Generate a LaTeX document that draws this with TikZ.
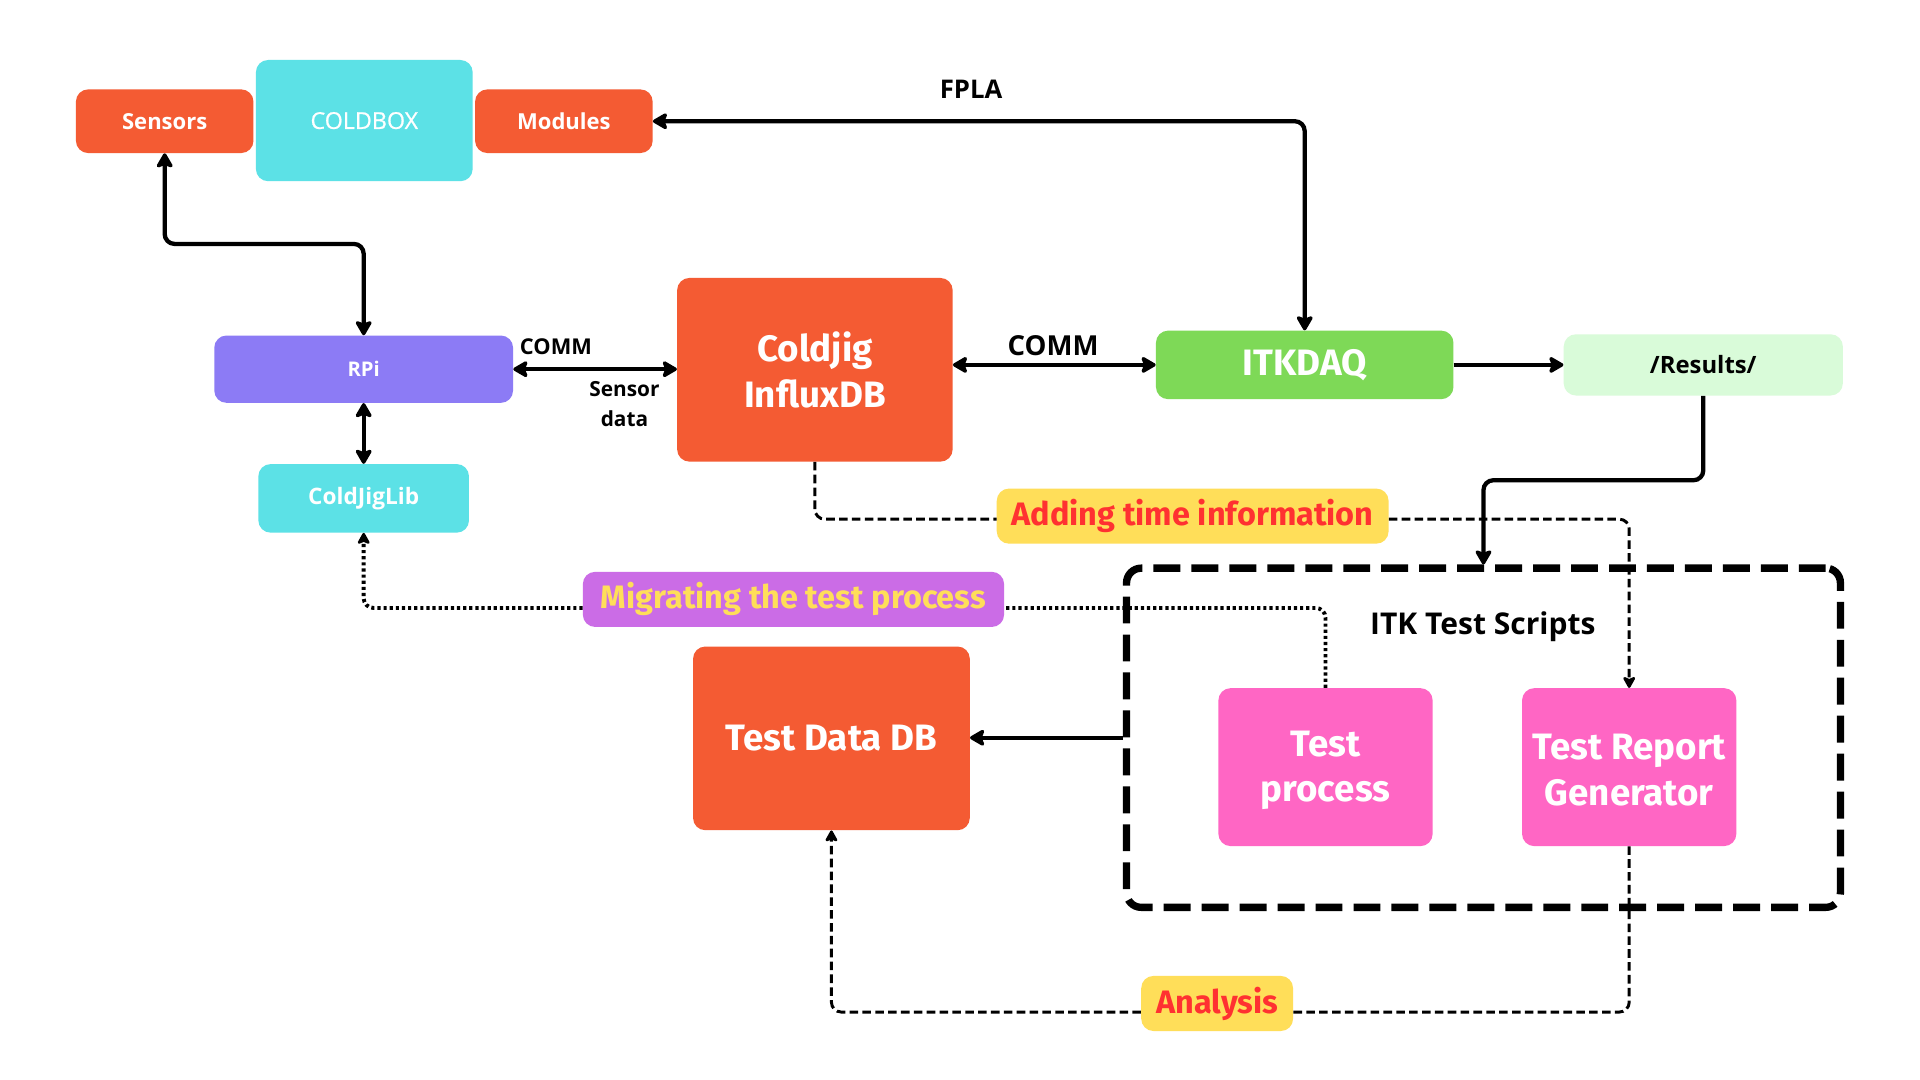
\documentclass[tikz,border=0pt]{standalone}
\usepackage{fontspec}
\setmainfont{Open Sans}
\newfontfamily\fbig{Fira Sans}
\newfontfamily\fsm{Open Sans}
\newfontfamily\fmed[FakeBold=0.8]{Open Sans}
\usetikzlibrary{arrows.meta,calc}
\definecolor{corange}{HTML}{F45B33}
\definecolor{ccyan}{HTML}{5CE1E6}
\definecolor{cpurple}{HTML}{8C7BF5}
\definecolor{cgreen}{HTML}{7ED957}
\definecolor{clgreen}{HTML}{D9FBD9}
\definecolor{cyellow}{HTML}{FFDE59}
\definecolor{cred}{HTML}{FF3131}
\definecolor{cviolet}{HTML}{CB6CE6}
\definecolor{cpink}{HTML}{FF66C4}
\tikzset{
  bigtip/.tip={Stealth[length=14pt,width=16pt,inset=3pt,round]},
  smalltip/.tip={Stealth[length=11pt,width=12pt,inset=2.5pt,round]},
  box/.style={rounded corners=10pt, inner sep=0pt, align=center, text=white},
  bigtxt/.style={font=\fbig\bfseries\fontsize{30}{37}\selectfont},
  smtxt/.style={font=\fsm\bfseries\fontsize{18}{22}\selectfont},
  lbl/.style={font=\fbig\bfseries\fontsize{26.5}{30}\selectfont},
  conn/.style={line width=3.5pt, rounded corners=8pt},
  dconn/.style={line width=2.4pt, dash pattern=on 7pt off 3.5pt, rounded corners=8pt},
  oconn/.style={line width=3.2pt, dash pattern=on 2.6pt off 2.4pt, rounded corners=8pt},
}
\begin{document}
\begin{tikzpicture}[x=1pt,y=-1pt]
\useasboundingbox (0,0) rectangle (1568,882);
\fill[white] (0,0) rectangle (1568,882);
% top row
\node[box, fill=corange, minimum width=145pt, minimum height=52pt, smtxt] (sensors) at (134.5,99) {Sensors};
\node[box, fill=ccyan, minimum width=177pt, minimum height=99pt, font=\fmed\fontsize{19}{22}\selectfont] (coldbox) at (297.5,98.5) {COLDBOX};
\node[box, fill=corange, minimum width=145pt, minimum height=52pt, smtxt] (modules) at (460.5,99) {Modules};
% middle
\node[box, fill=cpurple, minimum width=244pt, minimum height=55pt, font=\fsm\bfseries\fontsize{16.5}{20}\selectfont] (rpi) at (297,301.5) {RPi};
\node[box, fill=ccyan, minimum width=172pt, minimum height=56pt, font=\fsm\bfseries\fontsize{18.5}{22}\selectfont] (cjlib) at (297,407) {ColdJigLib};
\node[box, fill=corange, minimum width=225pt, minimum height=150pt, bigtxt] (influx) at (665.5,302) {Coldjig\\InfluxDB};
\node[box, fill=cgreen, minimum width=243pt, minimum height=56pt, bigtxt] (itkdaq) at (1065.5,298) {\raisebox{-4pt}{ITKDAQ}};
\node[box, fill=clgreen, minimum width=228pt, minimum height=50pt, text=black, font=\fsm\bfseries\fontsize{19.5}{22}\selectfont] (results) at (1391,298) {/Results/};
% labels on dashed lines
\node[box, fill=cyellow, minimum width=320pt, minimum height=45pt, text=cred, lbl] (adding) at (974,421.5) {\raisebox{-1.5pt}{Adding time information}};
\node[box, fill=cviolet, minimum width=344pt, minimum height=45pt, text=cyellow, lbl] (migr) at (648,489.5) {\raisebox{-2pt}{Migrating the test process}};
\node[box, fill=cyellow, minimum width=124pt, minimum height=45pt, text=cred, lbl] (analysis) at (994,819.5) {\raisebox{-1.5pt}{Analysis}};
% bottom
\node[box, fill=corange, minimum width=226pt, minimum height=150pt, bigtxt] (testdb) at (679,603) {Test Data DB};
\node[draw=black, line width=6pt, dash pattern=on 22pt off 9pt, rounded corners=12pt, minimum width=583pt, minimum height=277pt, inner sep=0pt] (scripts) at (1211.5,602.5) {};
\node[font=\fsm\bfseries\fontsize{24.5}{28}\selectfont] (scriptslbl) at (1211,512) {ITK Test Scripts};
\node[box, fill=cpink, minimum width=175pt, minimum height=129pt] (testproc) at (1082.5,626.5) {};
\node[bigtxt, text=white, align=center] (testproctxt) at (1082.5,629) {Test\\process};
\node[box, fill=cpink, minimum width=175pt, minimum height=129pt] (trg) at (1330.5,626.5) {};
\node[bigtxt, text=white, align=center] (trgtxt) at (1330.5,629) {Test Report\\Generator};
% connector labels
\node[font=\fsm\bfseries\fontsize{21}{24}\selectfont] (fpla) at (793,73) {FPLA};
\node[font=\fsm\bfseries\fontsize{17.8}{20}\selectfont] (comm1) at (454,283) {COMM};
\node[font=\fsm\bfseries\fontsize{17}{24}\selectfont, align=center] (sdata) at (510,330) {Sensor\\data};
\node[font=\fsm\bfseries\fontsize{22.5}{24}\selectfont] (comm2) at (860,282) {COMM};
% solid connectors
\draw[conn, {bigtip}-{bigtip}] (sensors.south) -- ++(0,74) -| (rpi.north);
\draw[conn, {bigtip}-{bigtip}] (modules.east) -| (itkdaq.north);
\draw[conn, {bigtip}-{bigtip}] (rpi.east) -- (rpi.east -| influx.west);
\draw[conn, {bigtip}-{bigtip}] (rpi.south) -- (cjlib.north);
\draw[conn, {bigtip}-{bigtip}] (influx.east |- itkdaq.west) -- (itkdaq.west);
\draw[conn, -{bigtip}] (itkdaq.east) -- (results.west);
\draw[conn, -{bigtip}] (results.south) -- ++(0,69) -| (scripts.north);
\draw[conn, -{bigtip}] (scripts.west) -- (scripts.west -| testdb.east);
% dashed connectors
\draw[dconn] (influx.south) |- ([yshift=-2.5pt]adding.west);
\draw[dconn, -{smalltip}] ([yshift=-2.5pt]adding.east) -| (trg.north);
\draw[dconn] (trg.south) |- ([yshift=-7pt]analysis.east);
\draw[dconn, -{smalltip}] ([yshift=-7pt]analysis.west) -| (testdb.south);
% dotted connectors
\draw[oconn] (testproc.north) |- ([yshift=-7pt]migr.east);
\draw[oconn, -{smalltip}] ([yshift=-7pt]migr.west) -| (cjlib.south);
\end{tikzpicture}
\end{document}
